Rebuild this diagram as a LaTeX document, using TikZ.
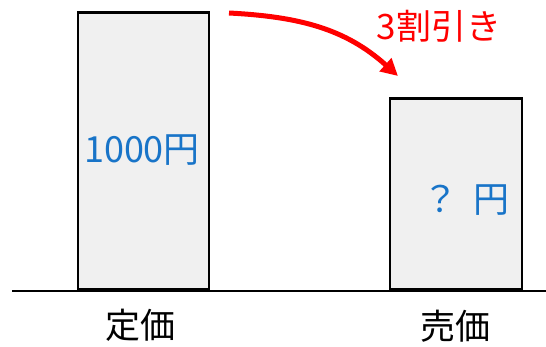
\documentclass[tikz,border=0pt]{standalone}
\usepackage{fontspec}
\setmainfont{Noto Sans CJK JP}
\usetikzlibrary{arrows.meta}
\definecolor{barfill}{HTML}{F0F0F0}
\definecolor{valblue}{HTML}{1874C8}
\begin{document}
\begin{tikzpicture}[
  x=1pt, y=1pt,
  bar/.style={rectangle, draw, line width=2.6pt, fill=barfill, anchor=south, inner sep=0pt},
  value/.style={text=valblue, font=\fontsize{36}{38}\selectfont},
  axislabel/.style={font=\fontsize{35}{38}\selectfont},
  cut/.style={draw=red, line width=5pt, -{Triangle[length=17pt,width=17pt]}},
  font=\small
]
\useasboundingbox (0,0) rectangle (546,346);
\node[bar, minimum width=131pt, minimum height=277pt] (list) at (143.5,55) {};
\node[bar, minimum width=132pt, minimum height=191pt] (sale) at (456,55) {};
\draw[line width=2pt] (12,55) -- (546,55);

\node[value] (listval) at (142,196) {1000円};
\node[value] (saleval) at (466,146) {？\hspace{6pt} 円};

\node[axislabel] (listlab) at (140,21) {定価};
\node[axislabel] (salelab) at (455,20) {売価};

\node[text=red, font=\fontsize{35}{38}\selectfont] (discount) at (439,320) {3割引き};

\coordinate (from) at (229,333);
\coordinate (to) at (398,270);
\draw[cut] (from) to[out=-3, in=138] (to);
\end{tikzpicture}
\end{document}
